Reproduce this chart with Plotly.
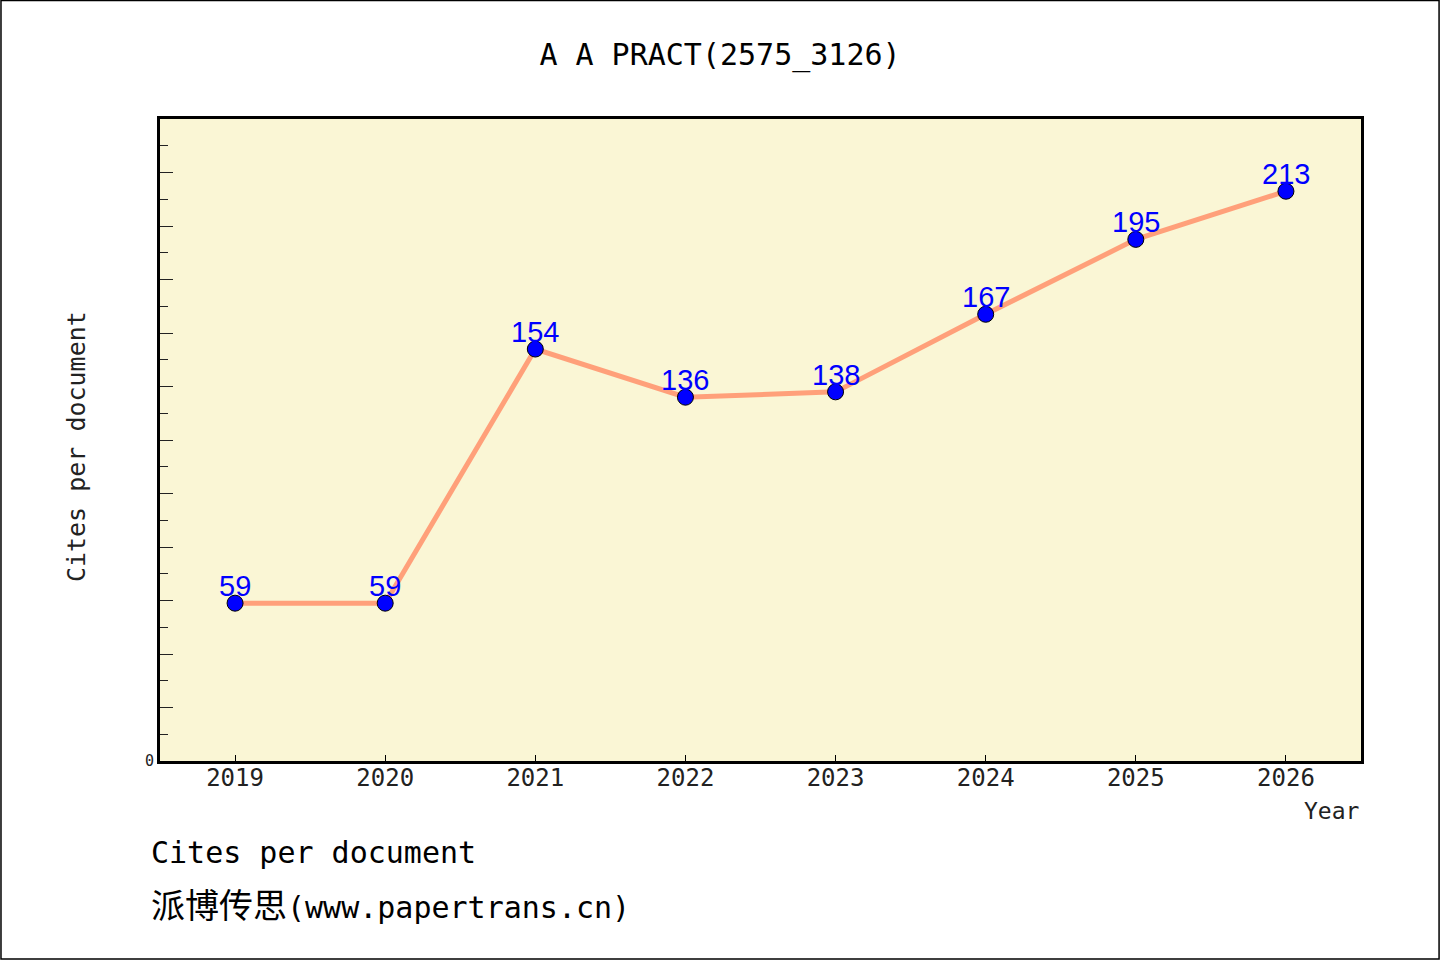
import plotly.graph_objects as go

# chart data
years = [2019, 2020, 2021, 2022, 2023, 2024, 2025, 2026]
cites = [59, 59, 154, 136, 138, 167, 195, 213]
y_ticks = list(range(0, 241, 20))
y_tick_text = ['0'] + [''] * (len(y_ticks) - 1)

mono = 'DejaVu Sans Mono, Noto Sans CJK SC'

fig = go.Figure()
fig.add_trace(go.Scatter(
    x=years, y=cites,
    mode='lines+markers',
    line=dict(color='#FFA07A', width=5),
    marker=dict(color='#0000FF', size=16, line=dict(color='black', width=1)),
    showlegend=False,
))

# value labels sit just above each point
labels = [
    dict(x=yr, y=v, text=str(v), showarrow=False, xref='x', yref='y',
         yanchor='middle', yshift=17,
         font=dict(family='Liberation Sans, Arial', size=29, color='#0000FF'))
    for yr, v in zip(years, cites)
]

fig.update_xaxes(
    range=[2018.5, 2026.5], tickvals=years,
    showline=True, linecolor='black', linewidth=3, mirror=True,
    ticks='inside', ticklen=6, tickcolor='black', tickwidth=1,
    tickfont=dict(family=mono, size=24, color='#222222'),
    ticklabelstandoff=-7,
    showgrid=False, zeroline=False,
)
fig.update_yaxes(
    range=[0, 240],
    tickvals=y_ticks, ticktext=y_tick_text,
    showline=True, linecolor='black', linewidth=3, mirror=True,
    ticks='inside', ticklen=13, tickcolor='#222222', tickwidth=1,
    minor=dict(ticks='inside', ticklen=8, dtick=10, tick0=0, tickcolor='#222222', tickwidth=1),
    tickfont=dict(family=mono, size=15, color='#222222'),
    showgrid=False, zeroline=False,
)

fig.update_layout(
    width=1440, height=960,
    margin=dict(l=160, r=79, t=119, b=199),
    paper_bgcolor='white',
    plot_bgcolor='#FAF6D5',
    title=dict(text='A A PRACT(2575_3126)', x=0.5, xanchor='center', y=0.943, yanchor='middle',
               font=dict(family=mono, size=30, color='black')),
    annotations=labels + [
        dict(text='Cites per document', xref='paper', yref='paper', x=-0.0699, y=0.489,
             textangle=-90, xanchor='center', yanchor='middle', showarrow=False,
             font=dict(family=mono, size=25, color='#222222')),
        dict(text='Year', xref='paper', yref='paper', x=1.0, y=-0.078, xanchor='right', yanchor='middle',
             showarrow=False, font=dict(family=mono, size=23, color='#222222')),
        dict(text='Cites per document', xref='paper', yref='paper', x=-0.009, y=-0.143,
             xanchor='left', yanchor='middle', showarrow=False,
             font=dict(family=mono, size=30, color='black')),
        dict(text='<span style="font-family:Noto Sans CJK SC;font-size:34px">派博传思</span>(www.papertrans.cn)',
             xref='paper', yref='paper', x=-0.009, y=-0.222,
             xanchor='left', yanchor='middle', showarrow=False,
             font=dict(family=mono, size=30, color='black')),
    ],
    shapes=[
        dict(type='rect', xref='paper', yref='paper', x0=-0.1324, x1=1.0650, y0=-0.3084, y1=1.1844,
             line=dict(color='black', width=1.5), layer='below'),
    ],
)

fig.write_html('out.html', config={'displayModeBar': False},
               post_script="document.body.style.margin='0';")
